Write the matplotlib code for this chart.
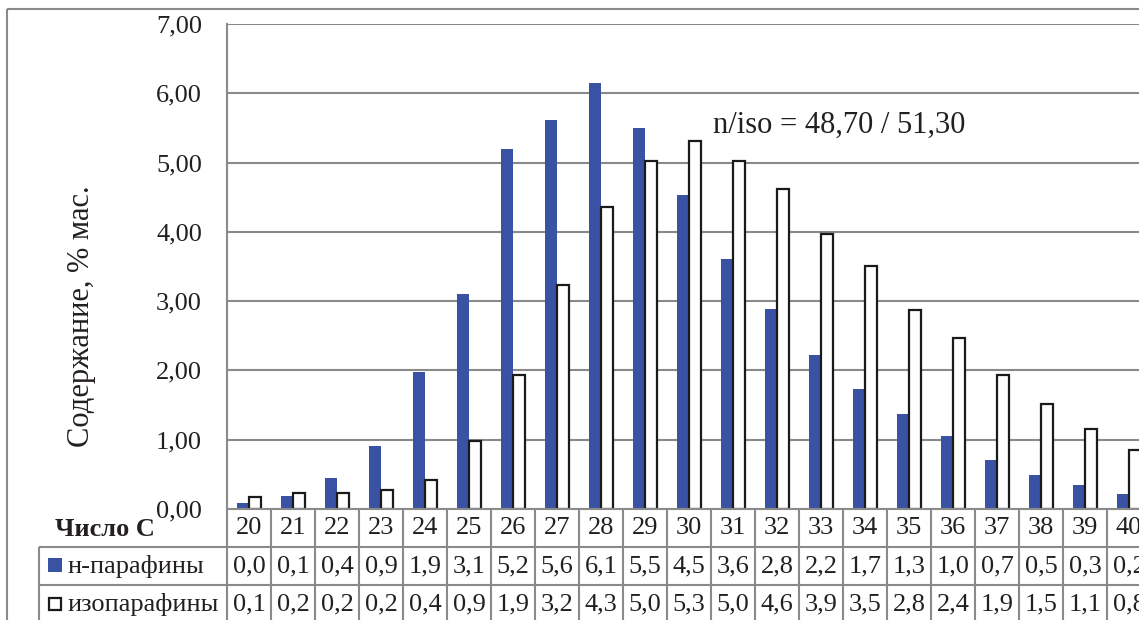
import matplotlib
matplotlib.use('Agg')
import matplotlib.pyplot as plt
from matplotlib.patches import Rectangle

# ---------------- data ----------------
categories = list(range(20, 41))
n_paraffins = [0.08, 0.19, 0.45, 0.91, 1.98, 3.10, 5.20, 5.62, 6.15, 5.50, 4.53,
               3.61, 2.89, 2.22, 1.73, 1.37, 1.05, 0.71, 0.49, 0.35, 0.22]
iso_paraffins = [0.17, 0.23, 0.23, 0.27, 0.42, 0.98, 1.93, 3.23, 4.36, 5.02, 5.31,
                 5.02, 4.62, 3.97, 3.51, 2.87, 2.47, 1.93, 1.51, 1.16, 0.85]
n_table = ["0,0", "0,1", "0,4", "0,9", "1,9", "3,1", "5,2", "5,6", "6,1", "5,5", "4,5",
           "3,6", "2,8", "2,2", "1,7", "1,3", "1,0", "0,7", "0,5", "0,3", "0,2"]
iso_table = ["0,1", "0,2", "0,2", "0,2", "0,4", "0,9", "1,9", "3,2", "4,3", "5,0", "5,3",
             "5,0", "4,6", "3,9", "3,5", "2,8", "2,4", "1,9", "1,5", "1,1", "0,8"]
y_ticks = [0, 1, 2, 3, 4, 5, 6, 7]
y_tick_labels = ["0,00", "1,00", "2,00", "3,00", "4,00", "5,00", "6,00", "7,00"]
series_names = ["н-парафины", "изопарафины"]
header_label = "Число С"
y_label = "Содержание, % мас."
annotation = "n/iso = 48,70 / 51,30"

# ---------------- style ----------------
plt.rcParams['font.family'] = ['Liberation Serif', 'DejaVu Serif']
TXT = '#231f20'
GRID = '#8a8a8a'
BLUE = '#3a52a4'
FS = 19

W, H = 1139, 620
fig = plt.figure(figsize=(W / 100, H / 100), dpi=100)
fig.patch.set_facecolor('white')


def fx(px):
    return px / W


def fy(py):
    return 1 - py / H


x0 = 227
cat_w = 44
x1 = x0 + cat_w * len(categories)
ytop, ybot = 24, 509

# main plot
ax = fig.add_axes([fx(x0), fy(ybot), (x1 - x0) / W, (ybot - ytop) / H])
idx = list(range(len(categories)))
bw = 0.27
ax.bar([i - bw for i in idx], n_paraffins, width=bw, align='edge',
       color=BLUE, edgecolor='none', zorder=3)
ax.bar(idx, iso_paraffins, width=bw, align='edge',
       facecolor='white', edgecolor='#1a1a1a', linewidth=1.6, zorder=3)
ax.set_xlim(-0.5, len(categories) - 0.5)
ax.set_ylim(0, 7)
ax.set_yticks(y_ticks)
ax.set_yticklabels(y_tick_labels, fontsize=FS, color=TXT)
ax.tick_params(axis='y', length=0, pad=18)
ax.set_xticks([])
ax.yaxis.grid(True, color=GRID, linewidth=1.5)
ax.set_axisbelow(True)
for s in ['top', 'right', 'bottom']:
    ax.spines[s].set_visible(False)
ax.spines['left'].set_color(GRID)
ax.spines['left'].set_linewidth(1.5)
ax.text(10.55, 5.54, annotation, fontsize=22, color=TXT, ha='left', va='center')

# data table (x shared with the plot, y in pixels)
tax = fig.add_axes([fx(x0), 0, (x1 - x0) / W, (H - ybot) / H], sharex=ax)
tax.set_ylim(H, ybot)
tax.axis('off')
rows = [509, 547, 585, 623]
for r in rows:
    tax.plot([-0.5, len(categories) - 0.5], [r, r], color=GRID, lw=1.5,
             clip_on=False, solid_capstyle='butt')
for i in range(len(categories) + 1):
    tax.plot([i - 0.5, i - 0.5], [509, 623], color=GRID, lw=1.5,
             clip_on=False, solid_capstyle='butt')
for i, c in enumerate(categories):
    tax.text(i, 528, str(c), ha='center', va='center', fontsize=FS, color=TXT)
    tax.text(i, 566, n_table[i], ha='center', va='center', fontsize=FS, color=TXT)
    tax.text(i, 604, iso_table[i], ha='center', va='center', fontsize=FS, color=TXT)

# overlay in pixel coordinates for the frame and the left part of the table
ov = fig.add_axes([0, 0, 1, 1])
ov.set_xlim(0, W)
ov.set_ylim(H, 0)
ov.axis('off')
ov.patch.set_alpha(0)
ov.plot([7, W], [9, 9], color=GRID, lw=1.5, solid_capstyle='butt')
ov.plot([7, 7], [9, H], color=GRID, lw=1.5, solid_capstyle='butt')
ov.plot([39, x0], [547, 547], color=GRID, lw=1.5, solid_capstyle='butt')
ov.plot([39, x0], [585, 585], color=GRID, lw=1.5, solid_capstyle='butt')
ov.plot([39, 39], [547, H], color=GRID, lw=1.5, solid_capstyle='butt')
ov.add_patch(Rectangle((48, 558), 14, 14, facecolor=BLUE, edgecolor='none'))
ov.add_patch(Rectangle((49, 598), 12, 12, facecolor='white', edgecolor='#1a1a1a', lw=1.6))
ov.text(67, 566, series_names[0], ha='left', va='center', fontsize=FS, color=TXT)
ov.text(67, 604, series_names[1], ha='left', va='center', fontsize=FS, color=TXT)
ov.text(55, 530, header_label, ha='left', va='center', fontsize=FS, color=TXT,
        fontweight='bold')
ov.text(82, 316, y_label, ha='center', va='center', fontsize=22, color=TXT,
        rotation=90)

fig.savefig('out.png', dpi=100)
